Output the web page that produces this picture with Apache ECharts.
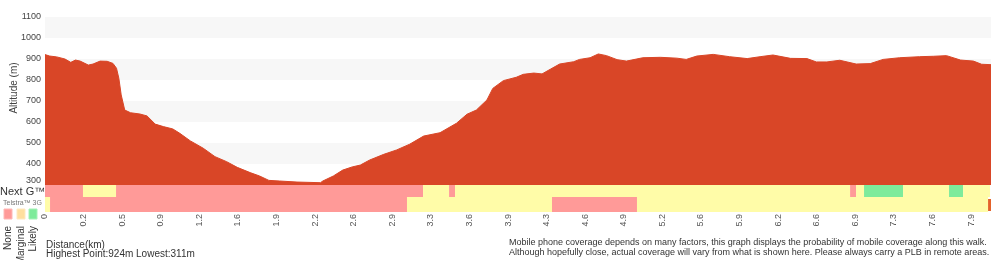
<!DOCTYPE html>
<html>
<head>
<meta charset="utf-8">
<script src="https://cdn.jsdelivr.net/npm/echarts@6/dist/echarts.min.js"></script>
<style>
  html, body { margin: 0; padding: 0; background: #fff; }
  #chart { width: 1000px; height: 260px; }
</style>
</head>
<body>
<div id="chart"></div>
<script>
// distance along the walk (km) and altitude (m)
const distKm = [0, 0.04, 0.10, 0.17, 0.22, 0.26, 0.30, 0.37, 0.41, 0.47, 0.53, 0.58, 0.61, 0.63, 0.65, 0.68,
  0.73, 0.81, 0.87, 0.94, 1.01, 1.09, 1.15, 1.24, 1.35, 1.45, 1.55, 1.64, 1.75, 1.83, 1.91, 2.00, 2.15,
  2.35, 2.37, 2.46, 2.54, 2.62, 2.69, 2.77, 2.89, 3.00, 3.11, 3.23, 3.37, 3.51, 3.60, 3.68, 3.77, 3.82,
  3.91, 4.02, 4.08, 4.17, 4.24, 4.31, 4.39, 4.51, 4.56, 4.65, 4.72, 4.79, 4.88, 4.96, 5.10, 5.25, 5.39,
  5.47, 5.56, 5.70, 5.84, 5.99, 6.10, 6.21, 6.36, 6.50, 6.58, 6.67, 6.78, 6.92, 7.04, 7.15, 7.29, 7.46,
  7.58, 7.69, 7.81, 7.92, 7.99, 8.07];
const altitude = [921, 914, 910, 900, 884, 895, 890, 871, 876, 890, 889, 879, 856, 808, 729, 657,
  644, 638, 629, 590, 578, 567, 546, 510, 475, 435, 411, 384, 359, 343, 322, 319, 314,
  311, 319, 343, 371, 386, 395, 419, 446, 467, 494, 533, 549, 594, 637, 657, 705, 760,
  797, 813, 827, 833, 829, 851, 876, 887, 898, 906, 924, 916, 897, 890, 906, 908, 904,
  898, 914, 922, 911, 902, 911, 919, 903, 902, 886, 886, 894, 876, 878, 898, 906, 911,
  913, 916, 895, 890, 875, 873];

const tickLabels = ['0', '0.2', '0.5', '0.9', '1.2', '1.6', '1.9', '2.2', '2.6', '2.9', '3.3', '3.6', '3.9',
  '4.3', '4.6', '4.9', '5.2', '5.6', '5.9', '6.2', '6.6', '6.9', '7.3', '7.6', '7.9'];
const yTicks = [300, 1100, 100]; // min, max, step

// coverage: breakpoints (km) and the level between each pair
const nextGBreaks = [0, 0.324, 0.606, 3.225, 3.447, 3.498, 6.868, 6.919, 6.987, 7.320, 7.712, 7.832, 8.062];
const nextGLevels = ['none', 'marginal', 'none', 'marginal', 'none', 'marginal', 'none', 'marginal',
  'likely', 'marginal', 'likely', 'marginal'];
const telstraBreaks = [0, 0.043, 3.088, 4.325, 5.050, 8.045, 8.07];
const telstraLevels = ['marginal', 'none', 'marginal', 'none', 'marginal', 'end'];

const levelNames = ['none', 'marginal', 'likely', 'end'];
const levelColors = ['#ff9a98', '#fffca8', '#7eeb9b', '#e4622a'];

const KM_STEP = 7.9 / (tickLabels.length - 1);
const MAX_KM = 8.07;
const FONT = '"Liberation Sans", Arial, Helvetica, sans-serif';

function segments(breaks, levels, row) {
  const out = [];
  for (let i = 0; i < levels.length; i++) {
    out.push([breaks[i], breaks[i + 1], row, levelNames.indexOf(levels[i])]);
  }
  return out;
}
const coverage = segments(nextGBreaks, nextGLevels, 0).concat(segments(telstraBreaks, telstraLevels, 1));

function renderCoverage(params, api) {
  const row = api.value(2);
  const level = api.value(3);
  const a = api.coord([api.value(0), 0]);
  const b = api.coord([api.value(1), 0]);
  const cs = params.coordSys;
  let top = row === 0 ? cs.y : cs.y + 12;
  let h = row === 0 ? 12 : cs.height - 12;
  if (level === 3) { top += 2; h -= 3; }
  return {
    type: 'rect',
    shape: { x: a[0], y: top, width: b[0] - a[0], height: h },
    style: { fill: levelColors[level] }
  };
}

const hi = Math.max(...altitude);
const lo = Math.min(...altitude);

const chart = echarts.init(document.getElementById('chart'), null, { renderer: 'canvas' });

const legendX = [8, 21, 33];
const graphics = [
  { type: 'text', left: 0, top: 186, style: { text: 'Next G™', font: '11px ' + FONT, fill: '#333' } },
  { type: 'text', left: 3, top: 200, style: { text: 'Telstra™ 3G', font: '7px ' + FONT, fill: '#777' } },
  { type: 'text', x: 14, y: 88, rotation: Math.PI / 2,
    style: { text: 'Altitude (m)', font: '10px ' + FONT, fill: '#444', align: 'center', verticalAlign: 'middle' } },
  { type: 'text', left: 46, top: 240, style: { text: 'Distance(km)', font: '10px ' + FONT, fill: '#333' } },
  { type: 'text', left: 46, top: 249,
    style: { text: 'Highest Point:' + hi + 'm Lowest:' + lo + 'm', font: '10px ' + FONT, fill: '#333' } },
  { type: 'text', left: 509, top: 238,
    style: { text: 'Mobile phone coverage depends on many factors, this graph displays the probability of mobile coverage along this walk.\nAlthough hopefully close, actual coverage will vary from what is shown here. Please always carry a PLB in remote areas.',
      font: '9px ' + FONT, fill: '#333', lineHeight: 9.5 } }
];
['None', 'Marginal', 'Likely'].forEach((name, i) => {
  graphics.push({ type: 'rect', shape: { x: legendX[i] - 4, y: 209, width: 8, height: 10 },
    style: { fill: ['#ff9a98', '#ffdf9f', '#7eeb9b'][i], stroke: ['#ffb8b6', '#ffe9c0', '#a5f2b8'][i], lineWidth: 1 } });
  graphics.push({ type: 'text', x: legendX[i], y: 226, rotation: Math.PI / 2,
    style: { text: name, font: '10px ' + FONT, fill: '#333', align: 'right', verticalAlign: 'middle' } });
});

chart.setOption({
  animation: false,
  textStyle: { fontFamily: FONT },
  grid: [
    { left: 45, top: 17, width: 946, height: 168 },
    { left: 45, top: 185, width: 946, height: 27 }
  ],
  xAxis: [
    { type: 'value', gridIndex: 0, min: 0, max: MAX_KM, show: false },
    { type: 'value', gridIndex: 1, min: 0, max: MAX_KM, interval: KM_STEP,
      axisLine: { show: false }, axisTick: { show: false }, splitLine: { show: false },
      axisLabel: {
        rotate: 90, fontSize: 9, color: '#555', margin: 2, showMaxLabel: false, padding: [4, 0, 0, 0],
        formatter: v => { const i = Math.round(v / KM_STEP); return tickLabels[i] !== undefined && Math.abs(v - i * KM_STEP) < 1e-4 ? tickLabels[i] : ''; }
      } }
  ],
  yAxis: [
    { type: 'value', gridIndex: 0, min: yTicks[0], max: yTicks[1], interval: yTicks[2],
      axisLine: { show: false }, axisTick: { show: false }, splitLine: { show: false },
      splitArea: { show: true, areaStyle: { color: ['#ffffff', '#f7f7f7'] } },
      axisLabel: { fontSize: 9, color: '#444', margin: 4, formatter: v => String(v), verticalAlignMinLabel: 'bottom' } },
    { type: 'value', gridIndex: 1, min: 0, max: 1, show: false }
  ],
  series: [
    { type: 'line', xAxisIndex: 0, yAxisIndex: 0, silent: true,
      data: distKm.map((d, i) => [d, altitude[i]]),
      showSymbol: false, smooth: false,
      lineStyle: { color: '#d94627', width: 1 },
      areaStyle: { color: '#d94627', opacity: 1 } },
    { type: 'custom', xAxisIndex: 1, yAxisIndex: 1, silent: true,
      data: coverage, renderItem: renderCoverage }
  ],
  graphic: graphics
});
</script>
</body>
</html>
